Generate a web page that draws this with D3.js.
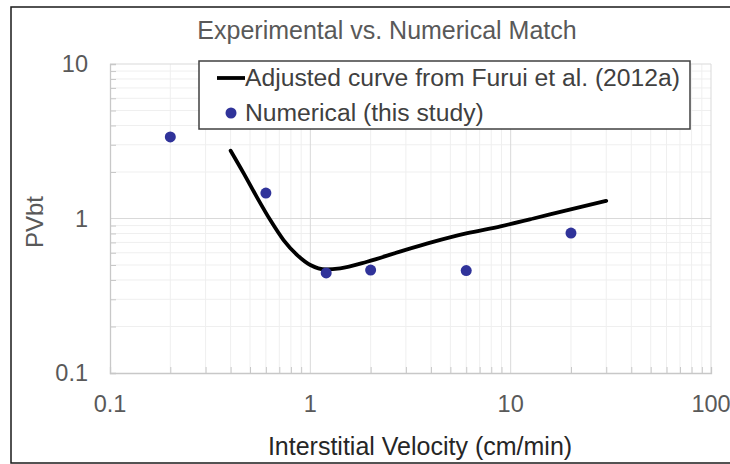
<!DOCTYPE html>
<html><head><meta charset="utf-8">
<script src="https://cdn.jsdelivr.net/npm/d3@7/dist/d3.min.js"></script>
<style>body{margin:0;background:#fff;}svg{display:block;font-family:"Liberation Sans",Arial,sans-serif;}</style>
</head><body>
<svg id="c" width="730" height="464"></svg>
<script>
const title = "Experimental vs. Numerical Match";
const xTitle = "Interstitial Velocity (cm/min)";
const yTitle = "PVbt";
const curveName = "Adjusted curve from Furui et al. (2012a)";
const pointName = "Numerical (this study)";
const xTickValues = [0.1, 1, 10, 100];
const xTickLabels = ["0.1", "1", "10", "100"];
const yTickValues = [0.1, 1, 10];
const yTickLabels = ["0.1", "1", "10"];
// Adjusted curve
const curveX = [0.40, 0.465, 0.54, 0.63, 0.735, 0.86, 1.0, 1.2, 1.41, 1.92, 2.8, 4.1, 6.0, 8.9, 13.0, 19.0, 30.0];
const curveY = [2.75, 1.96, 1.38, 0.98, 0.725, 0.58, 0.50, 0.468, 0.476, 0.525, 0.61, 0.705, 0.80, 0.89, 1.00, 1.13, 1.30];
// Numerical points
const numX = [0.2, 0.6, 1.2, 2, 6, 20];
const numY = [3.37, 1.46, 0.444, 0.464, 0.46, 0.805];

const svg = d3.select("#c");
const L = 110, R = 711, T = 64, B = 373;
const x = d3.scaleLog().domain([0.1, 100]).range([L, R]);
const y = d3.scaleLog().domain([0.1, 10]).range([B, T]);

// outer frame
svg.append("rect").attr("x", 11).attr("y", 7).attr("width", 740).attr("height", 456)
  .attr("fill", "#fff").attr("stroke", "#1a1a1a").attr("stroke-width", 1.5);

function minors(lo, hi) {
  const out = [];
  for (let d = lo; d < hi; d *= 10) for (let k = 2; k <= 9; k++) out.push(d * k);
  return out;
}
const xMinor = minors(0.1, 100), yMinor = minors(0.1, 10);

const g = svg.append("g");
g.selectAll(".xm").data(xMinor).join("line")
  .attr("x1", d => x(d)).attr("x2", d => x(d)).attr("y1", T).attr("y2", B)
  .attr("stroke", "#efefef").attr("stroke-width", 1);
g.selectAll(".ym").data(yMinor).join("line")
  .attr("x1", L).attr("x2", R).attr("y1", d => y(d)).attr("y2", d => y(d))
  .attr("stroke", "#efefef").attr("stroke-width", 1);
g.selectAll(".xM").data(xTickValues.slice(1)).join("line")
  .attr("x1", d => x(d)).attr("x2", d => x(d)).attr("y1", T).attr("y2", B)
  .attr("stroke", "#d9d9d9").attr("stroke-width", 1);
g.selectAll(".yM").data(yTickValues.slice(1)).join("line")
  .attr("x1", L).attr("x2", R).attr("y1", d => y(d)).attr("y2", d => y(d))
  .attr("stroke", "#d9d9d9").attr("stroke-width", 1);

const xAxis = d3.axisBottom(x).tickValues(xMinor).tickSize(-6).tickFormat("");
const xa = svg.append("g").attr("transform", `translate(0,${B})`).call(xAxis);
xa.select(".domain").attr("stroke", "#c8c8c8").attr("stroke-width", 1.3);
xa.selectAll(".tick line").attr("stroke", "#c8c8c8");
const yAxis = d3.axisLeft(y).tickValues(yMinor).tickSize(-6).tickFormat("");
const ya = svg.append("g").attr("transform", `translate(${L},0)`).call(yAxis);
ya.select(".domain").attr("stroke", "#c8c8c8").attr("stroke-width", 1.3);
ya.selectAll(".tick line").attr("stroke", "#c8c8c8");

svg.selectAll(".xl").data(xTickValues).join("text")
  .attr("x", d => x(d)).attr("y", 412).attr("text-anchor", "middle")
  .attr("font-size", 23.5).attr("fill", "#595959").text((d, i) => xTickLabels[i]);
svg.selectAll(".yl").data(yTickValues).join("text")
  .attr("x", 88).attr("y", d => y(d) + 8).attr("text-anchor", "end")
  .attr("font-size", 23.5).attr("fill", "#595959").text((d, i) => yTickLabels[i]);

svg.append("text").attr("x", 387).attr("y", 39).attr("text-anchor", "middle")
  .attr("font-size", 25).attr("fill", "#595959").text(title);
svg.append("text").attr("x", 420).attr("y", 455).attr("text-anchor", "middle")
  .attr("font-size", 25).attr("fill", "#262626").text(xTitle);
svg.append("text").attr("transform", "translate(43,222) rotate(-90)").attr("text-anchor", "middle")
  .attr("font-size", 24).attr("fill", "#595959").text(yTitle);

const pts = curveX.map((v, i) => [v, curveY[i]]);
svg.append("path").datum(pts)
  .attr("d", d3.line().x(d => x(d[0])).y(d => y(d[1])).curve(d3.curveMonotoneX))
  .attr("fill", "none").attr("stroke", "#000").attr("stroke-width", 3.8)
  .attr("stroke-linecap", "round").attr("stroke-linejoin", "round");

svg.selectAll(".pt").data(numX.map((v, i) => [v, numY[i]])).join("circle")
  .attr("cx", d => x(d[0])).attr("cy", d => y(d[1])).attr("r", 5.5)
  .attr("fill", "#30339a");

const lg = svg.append("g");
lg.append("rect").attr("x", 199).attr("y", 61).attr("width", 491).attr("height", 68)
  .attr("fill", "#fff").attr("stroke", "#404040").attr("stroke-width", 1.5);
lg.append("line").attr("x1", 217).attr("x2", 245).attr("y1", 78).attr("y2", 78)
  .attr("stroke", "#000").attr("stroke-width", 3.8);
lg.append("text").attr("x", 245).attr("y", 86).attr("font-size", 24.7).attr("fill", "#404040").text(curveName);
lg.append("circle").attr("cx", 231).attr("cy", 113).attr("r", 5.5).attr("fill", "#30339a");
lg.append("text").attr("x", 245).attr("y", 121).attr("font-size", 24.7).attr("fill", "#404040").text(pointName);
</script>
</body></html>
